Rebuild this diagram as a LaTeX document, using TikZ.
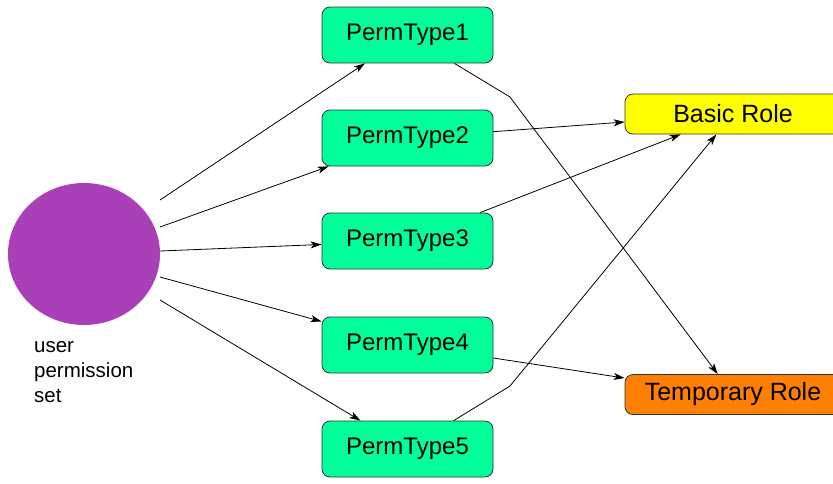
\documentclass[tikz,border=0pt]{standalone}
\usepackage{fontspec}
\setmainfont{Liberation Sans}
\usetikzlibrary{arrows.meta,shapes.geometric}
\definecolor{permgreen}{RGB}{0,255,153}
\definecolor{roleyellow}{RGB}{255,255,0}
\definecolor{roleorange}{RGB}{255,128,0}
\definecolor{setpurple}{RGB}{170,64,184}
\begin{document}
\begin{tikzpicture}[x=1pt,y=-1pt,
  permbox/.style={draw=black!80, line width=0.8pt, fill=permgreen,
    rounded corners=8pt, minimum width=171pt, minimum height=56pt,
    inner sep=0pt, font=\fontsize{24}{28}\selectfont},
  rolebox/.style={draw=black!80, line width=0.8pt,
    rounded corners=8pt, minimum width=216pt, minimum height=40pt,
    inner sep=0pt, font=\fontsize{25}{29}\selectfont},
  link/.style={line width=0.8pt, -{Stealth[length=11pt,width=7pt,inset=3pt]}},
  plain/.style={line width=0.8pt}]
\useasboundingbox (0,0) rectangle (833,483);

% the permission set and its caption
\node[ellipse, fill=setpurple, minimum width=152pt, minimum height=142pt,
  inner sep=0pt] (set) at (84,254) {};
\node[anchor=base west, inner sep=0pt, align=left,
  font=\fontsize{20.5}{25}\selectfont] (caption) at (34,402)
  {user\\permission\\set};

% permission types
\node[permbox] (p1) at (407.5,35)  {PermType1};
\node[permbox] (p2) at (407.5,138) {PermType2};
\node[permbox] (p3) at (407.5,241) {PermType3};
\node[permbox] (p4) at (407.5,345) {PermType4};
\node[permbox] (p5) at (407.5,449) {PermType5};

% roles
\node[rolebox, fill=roleyellow] (basic) at (733,114)   {Basic Role};
\node[rolebox, fill=roleorange] (temp)  at (733,394.5) {Temporary Role};

% start points beside the set and bend points
\coordinate (s1) at (160,200);
\coordinate (s2) at (160,227);
\coordinate (s3) at (160,251);
\coordinate (s4) at (160,277);
\coordinate (s5) at (160,300);
\coordinate (b1) at (510,97);
\coordinate (b5) at (510,386);

% set to permission types
\draw[link] (s1) -- (p1);
\draw[link] (s2) -- (p2);
\draw[link] (s3) -- (p3);
\draw[link] (s4) -- (p4);
\draw[link] (s5) -- (p5);

% permission types to roles
\draw[link] (p1) -- (b1) -- (temp);
\draw[link] (p2) -- (basic);
\draw[link] (p3) -- (basic);
\draw[link] (p4) -- (temp);
\draw[link] (p5) -- (b5) -- (basic);
\end{tikzpicture}
\end{document}
